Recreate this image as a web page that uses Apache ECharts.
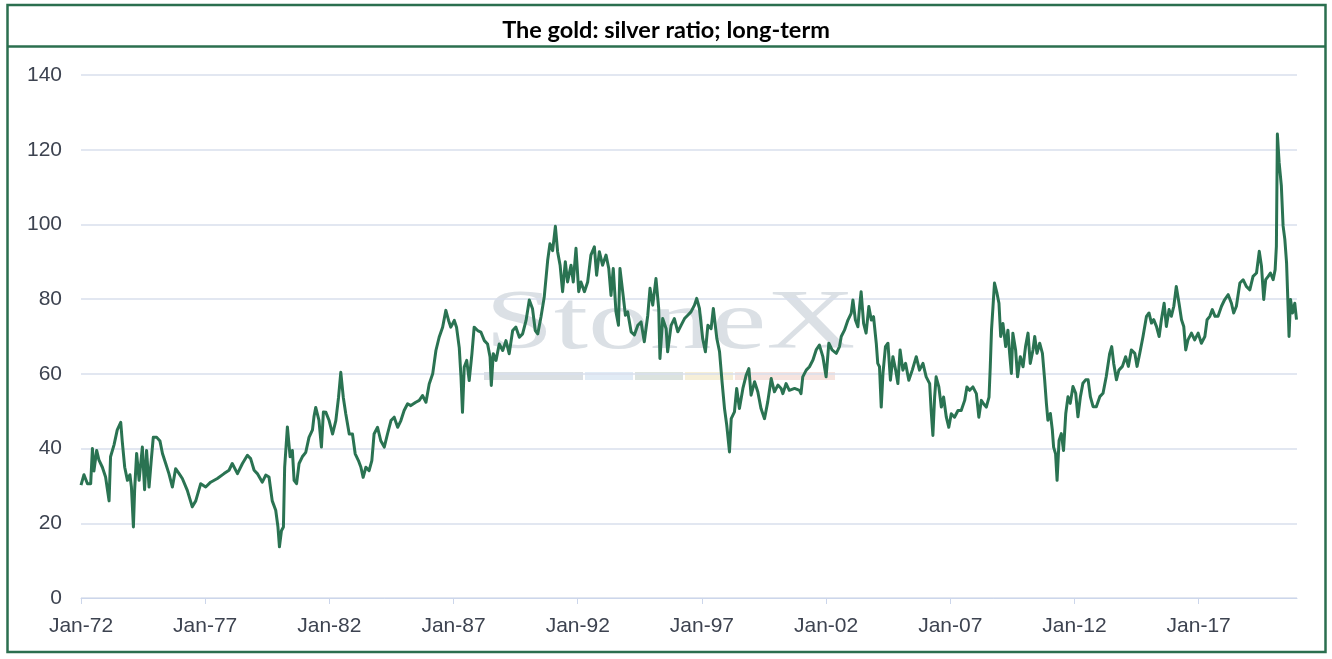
<!DOCTYPE html>
<html>
<head>
<meta charset="utf-8">
<script src="https://cdn.jsdelivr.net/npm/echarts@6/dist/echarts.min.js"></script>
<style>
  html, body { margin: 0; padding: 0; background: #ffffff; }
  #chart { width: 1332px; height: 659px; }
</style>
</head>
<body>
<div id="chart"></div>
<script>
// ---- data (decimal year, gold:silver ratio) ----
const years = [
  1972.00,1972.12,1972.26,1972.39,1972.46,1972.52,1972.63,1972.72,1972.86,1972.99,
  1973.13,1973.19,1973.33,1973.46,1973.60,1973.66,1973.76,1973.87,1973.97,1974.03,
  1974.11,1974.16,1974.24,1974.34,1974.47,1974.56,1974.64,1974.74,1974.83,1974.91,
  1975.05,1975.18,1975.28,1975.41,1975.54,1975.68,1975.81,1975.95,1976.08,1976.28,
  1976.48,1976.62,1976.82,1977.02,1977.22,1977.49,1977.76,1977.96,1978.09,1978.30,
  1978.50,1978.70,1978.83,1978.97,1979.10,1979.30,1979.44,1979.57,1979.70,1979.84,
  1979.93,1979.99,1980.07,1980.15,1980.20,1980.31,1980.42,1980.51,1980.58,1980.68,
  1980.78,1980.91,1981.05,1981.18,1981.32,1981.38,1981.45,1981.58,1981.68,1981.76,
  1981.86,1981.99,1982.13,1982.26,1982.37,1982.46,1982.56,1982.66,1982.80,1982.93,
  1983.04,1983.17,1983.27,1983.36,1983.47,1983.60,1983.71,1983.80,1983.94,1984.07,
  1984.21,1984.34,1984.48,1984.61,1984.75,1984.88,1985.01,1985.15,1985.28,1985.48,
  1985.62,1985.75,1985.89,1986.02,1986.16,1986.29,1986.42,1986.56,1986.69,1986.80,
  1986.89,1987.03,1987.12,1987.23,1987.30,1987.36,1987.43,1987.53,1987.63,1987.74,
  1987.83,1987.97,1988.10,1988.24,1988.37,1988.47,1988.52,1988.60,1988.71,1988.84,
  1988.98,1989.11,1989.24,1989.38,1989.51,1989.65,1989.78,1989.92,1990.05,1990.18,
  1990.29,1990.39,1990.52,1990.65,1990.79,1990.88,1990.99,1991.10,
  1991.19,1991.29,1991.39,1991.50,1991.59,1991.73,1991.82,1991.93,1992.04,1992.13,
  1992.27,1992.40,1992.53,1992.67,1992.76,1992.87,1993.00,1993.14,1993.25,1993.34,
  1993.43,1993.54,1993.64,1993.70,1993.81,1993.92,1994.01,1994.15,1994.28,1994.42,
  1994.55,1994.68,1994.82,1994.91,1995.02,1995.15,1995.26,1995.31,1995.42,1995.56,
  1995.62,1995.76,1995.89,1996.03,1996.16,1996.30,1996.43,1996.56,1996.70,1996.79,
  1996.90,1997.03,1997.14,1997.24,1997.37,1997.46,1997.60,1997.71,1997.81,1997.91,
  1998.00,1998.11,1998.18,1998.31,1998.40,1998.51,1998.65,1998.78,1998.89,1998.98,
  1999.12,1999.25,1999.38,1999.52,1999.65,1999.79,1999.92,2000.06,2000.19,
  2000.26,2000.39,2000.52,2000.73,2000.93,2000.99,2001.06,2001.20,2001.33,2001.47,
  2001.60,2001.73,2001.87,2002.00,2002.11,2002.24,2002.41,2002.54,2002.61,2002.74,
  2002.88,2003.01,2003.08,2003.18,2003.28,2003.35,2003.41,2003.51,2003.61,2003.72,
  2003.82,2003.91,2004.02,2004.08,2004.15,2004.22,2004.29,2004.39,2004.49,2004.59,
  2004.69,2004.80,2004.89,2004.98,2005.09,2005.20,2005.33,2005.47,2005.63,2005.76,
  2005.90,2006.03,2006.17,2006.23,2006.30,2006.37,2006.43,2006.54,2006.64,2006.73,
  2006.84,2006.94,2007.04,2007.17,2007.31,2007.44,2007.58,2007.67,2007.78,2007.91,
  2008.05,2008.15,2008.25,2008.34,2008.45,2008.56,2008.61,2008.66,2008.72,2008.78,
  2008.88,2008.96,2009.03,2009.12,2009.23,2009.32,2009.39,2009.46,2009.52,2009.63,
  2009.71,2009.82,2009.93,2010.03,2010.13,2010.22,
  2010.33,2010.40,2010.49,2010.60,2010.71,2010.80,2010.87,2010.93,2011.03,2011.11,
  2011.16,2011.24,2011.30,2011.38,2011.47,2011.56,2011.65,2011.74,2011.83,2011.94,
  2012.05,2012.14,2012.24,2012.34,2012.45,2012.55,2012.64,2012.75,2012.88,2013.02,
  2013.15,2013.28,2013.42,2013.50,2013.58,2013.69,2013.79,2013.93,2014.06,2014.17,
  2014.29,2014.43,2014.52,2014.63,2014.76,2014.90,2015.00,2015.10,2015.19,2015.30,
  2015.41,2015.50,2015.61,2015.70,2015.81,2015.90,2016.00,2016.10,2016.21,2016.31,
  2016.40,2016.48,2016.57,2016.71,2016.84,2016.98,2017.11,2017.25,2017.34,2017.45,
  2017.55,2017.66,2017.78,2017.92,2018.05,2018.19,2018.32,2018.41,2018.52,2018.66,
  2018.79,2018.92,2019.06,2019.19,2019.33,2019.44,2019.53,2019.62,2019.70,2019.80,
  2019.89,2020.00,2020.08,2020.13,2020.17,2020.24,2020.33,2020.40,2020.47,2020.54,
  2020.60,2020.64,2020.70,2020.78,2020.87,2020.94
];
const ratio = [
  30.2,33,30.6,30.6,40,34,39.5,37,35,32.4,
  26,37.8,41,45,47,42,35,31.5,33,29.7,
  19,29,38.7,31.5,40.4,29,39.5,29.7,37,43,
  43,42,38.7,36,33.3,29.7,34.6,33.3,32,28.8,
  24.4,26,30.6,29.7,31,32,33.3,34.2,36,33.3,
  36,38.2,37.3,34.2,33.3,31,32.9,32.4,26,23.5,
  19,13.7,18,19,35,45.8,37.8,39.5,31.5,30.6,
  36,37.8,39,43,45,48.5,51,47.6,40.4,49.8,
  49.7,47.5,43.9,47.5,53.75,60.4,53.75,49.3,43.9,43.9,
  38.6,36.8,35,32.3,35,34.1,36.8,43.9,45.7,42.1,
  40.4,43.9,47.5,48.4,45.7,47.5,50.2,52,51.5,52.4,
  52.9,54.2,52.4,57.3,60,66.25,69.8,72.5,77,74.3,
  72.5,74.3,72.5,67,59.1,49.7,61.8,63.6,58.2,65.4,
  72.5,71.6,71.2,68.9,68,64.5,56.9,65.4,63.6,68,
  66.25,68.9,65.4,71.6,72.5,69.8,70.7,74.3,79.8,77.4,
  71.6,70.7,75.2,80.5,90.4,94.8,93,99.5,
  92.7,89.1,82,90,84.6,89.1,84.6,93.6,82,84.6,
  82,84.6,91.8,94,86.4,92.7,89.1,91.8,88.2,81,
  88.2,76.6,73,88.2,82,75.7,76.6,71.25,70.4,73,
  73.9,68.6,75.7,82.9,78.4,85.5,77.5,64.1,74.8,72.1,
  65.9,73,74.8,71.25,73,74.8,75.7,76.6,78.4,80.2,
  77.5,69.5,65.9,73,72.1,77.5,69.5,65.9,57.9,50.7,
  46.25,39.1,48,49.8,56.1,50.7,56.1,59.6,61.4,54.3,
  57.9,55.2,50.7,48,52.5,58.75,55.2,57,56.1,
  54.7,57.4,55.6,56.1,55.6,54.7,59.2,61,61.9,63.7,
  66.4,67.7,64.6,59.2,68.2,66.4,65.5,67.3,70,71.7,
  74.4,76.2,79.8,74.4,72.6,78,82,73.5,70.9,78,
  74.4,75.3,68.2,62.8,61.9,51.1,60.1,67.3,68.2,58.3,
  64.6,61,57.4,66.4,61,62.8,58.3,61,64.6,61,
  62.8,59.2,57.4,50.2,43.5,53.8,59.2,56.5,51.1,53.8,
  48.4,45.7,49.3,48.4,50.2,50.2,52.9,56.5,55.6,56.5,
  54.7,48.4,52.9,52,51.1,53.8,61.9,71.7,78,84.3,
  81.6,78.9,70,73.5,67.3,71.7,65.5,60.1,70.9,66.4,
  59.2,64.6,61.9,67.3,70.9,62.8,
  66.4,70,65.5,68.2,65.5,58.4,52.1,47.6,49.4,44.9,
  40.4,38.6,31.5,42.2,44,39.5,49.4,53.9,52.1,56.6,
  54.8,48.5,53.9,57.5,58.4,58.4,53.9,51.2,51.2,53.9,
  54.8,59.3,65.5,67.3,62.8,58.4,61,62,64.6,62,
  66.4,65.5,62,65.5,70,75.4,76.3,73.6,74.5,72.7,
  70,74.5,78.9,72.7,77.2,75.4,78.1,83.4,78.9,74.5,
  72.7,66.4,69.1,70.9,69.1,70.9,68.2,70,74.5,75.4,
  77.2,75.4,75.4,78.1,79.9,81.2,78.9,76.3,78.1,84.3,
  85.2,83.4,82.5,86.1,87,92.8,88.8,79.9,85.2,86.1,
  87,85.2,87.9,94.2,124.2,116.6,110.3,99.6,96,89.7,
  78.1,70,79.9,76.3,78.9,74.5
];
const tickYears = [1972, 1977, 1982, 1987, 1992, 1997, 2002, 2007, 2012, 2017];
const tickLabels = ['Jan-72','Jan-77','Jan-82','Jan-87','Jan-92','Jan-97','Jan-02','Jan-07','Jan-12','Jan-17'];
const yTicks = [0, 20, 40, 60, 80, 100, 120, 140];
const titleText = 'The gold: silver ratio; long-term';

// ---- chart ----
const chart = echarts.init(document.getElementById('chart'), null, { renderer: 'canvas' });
const seriesData = years.map((y, i) => [y, ratio[i]]);
const green = '#2a7352';
const border = '#2b6f4f';

chart.setOption({
  animation: false,
  backgroundColor: '#ffffff',
  title: {
    text: titleText,
    left: 'center',
    top: 13,
    textStyle: { fontFamily: 'Lato, "Open Sans", sans-serif', fontWeight: 'bold', fontSize: 23.5, color: '#000000' }
  },
  grid: { left: 81, right: 35, top: 75, bottom: 61, containLabel: false, outerBoundsMode: 'none' },
  xAxis: {
    type: 'value',
    min: tickYears[0],
    max: 2020.96,
    axisLine: { show: true, lineStyle: { color: '#ccd6eb', width: 1 } },
    axisTick: { show: true, length: 6, lineStyle: { color: '#ccd6eb' }, customValues: tickYears },
    axisLabel: {
      customValues: tickYears,
      formatter: function (v) {
        const i = tickYears.indexOf(Math.round(v));
        return i >= 0 ? tickLabels[i] : '';
      },
      color: '#3d4350',
      fontFamily: '"Liberation Sans", Arial, sans-serif',
      fontSize: 21,
      margin: 18
    },
    splitLine: { show: false }
  },
  yAxis: {
    type: 'value',
    min: yTicks[0],
    max: yTicks[yTicks.length - 1],
    interval: yTicks[1] - yTicks[0],
    axisLine: { show: false },
    axisTick: { show: false },
    axisLabel: {
      color: '#3d4350',
      fontFamily: '"Liberation Sans", Arial, sans-serif',
      fontSize: 21,
      margin: 19
    },
    splitLine: { show: true, lineStyle: { color: '#d8dfec', width: 1.5 } }
  },
  graphic: {
    elements: [
      { type: 'rect', z: -10, silent: true,
        shape: { x: 7.5, y: 5, width: 1318, height: 647 },
        style: { fill: null, stroke: border, lineWidth: 2.5 } },
      { type: 'line', z: -10, silent: true,
        shape: { x1: 7.5, y1: 46.5, x2: 1325.5, y2: 46.5 },
        style: { stroke: border, lineWidth: 2.5 } },
      // faint watermark logo
      { type: 'text', z: -5, silent: true, x: 485, y: 368, scaleX: 1.47,
        style: { text: 'StoneX', fill: 'rgba(170,180,192,0.42)',
                 font: '84px "Liberation Serif", "DejaVu Serif", serif', textVerticalAlign: 'bottom' } },
      { type: 'rect', z: -5, silent: true, shape: { x: 484, y: 372, width: 99, height: 8 }, style: { fill: 'rgba(190,198,206,0.55)' } },
      { type: 'rect', z: -5, silent: true, shape: { x: 585, y: 372, width: 48, height: 8 }, style: { fill: 'rgba(205,222,238,0.6)' } },
      { type: 'rect', z: -5, silent: true, shape: { x: 635, y: 372, width: 48, height: 8 }, style: { fill: 'rgba(196,208,202,0.6)' } },
      { type: 'rect', z: -5, silent: true, shape: { x: 685, y: 372, width: 48, height: 8 }, style: { fill: 'rgba(240,228,190,0.6)' } },
      { type: 'rect', z: -5, silent: true, shape: { x: 735, y: 372, width: 100, height: 8 }, style: { fill: 'rgba(240,210,202,0.6)' } }
    ]
  },
  series: [{
    type: 'line',
    name: 'Gold/Silver ratio',
    data: seriesData,
    showSymbol: false,
    symbol: 'none',
    lineStyle: { color: green, width: 3, join: 'round' },
    itemStyle: { color: green }
  }]
});
</script>
</body>
</html>
